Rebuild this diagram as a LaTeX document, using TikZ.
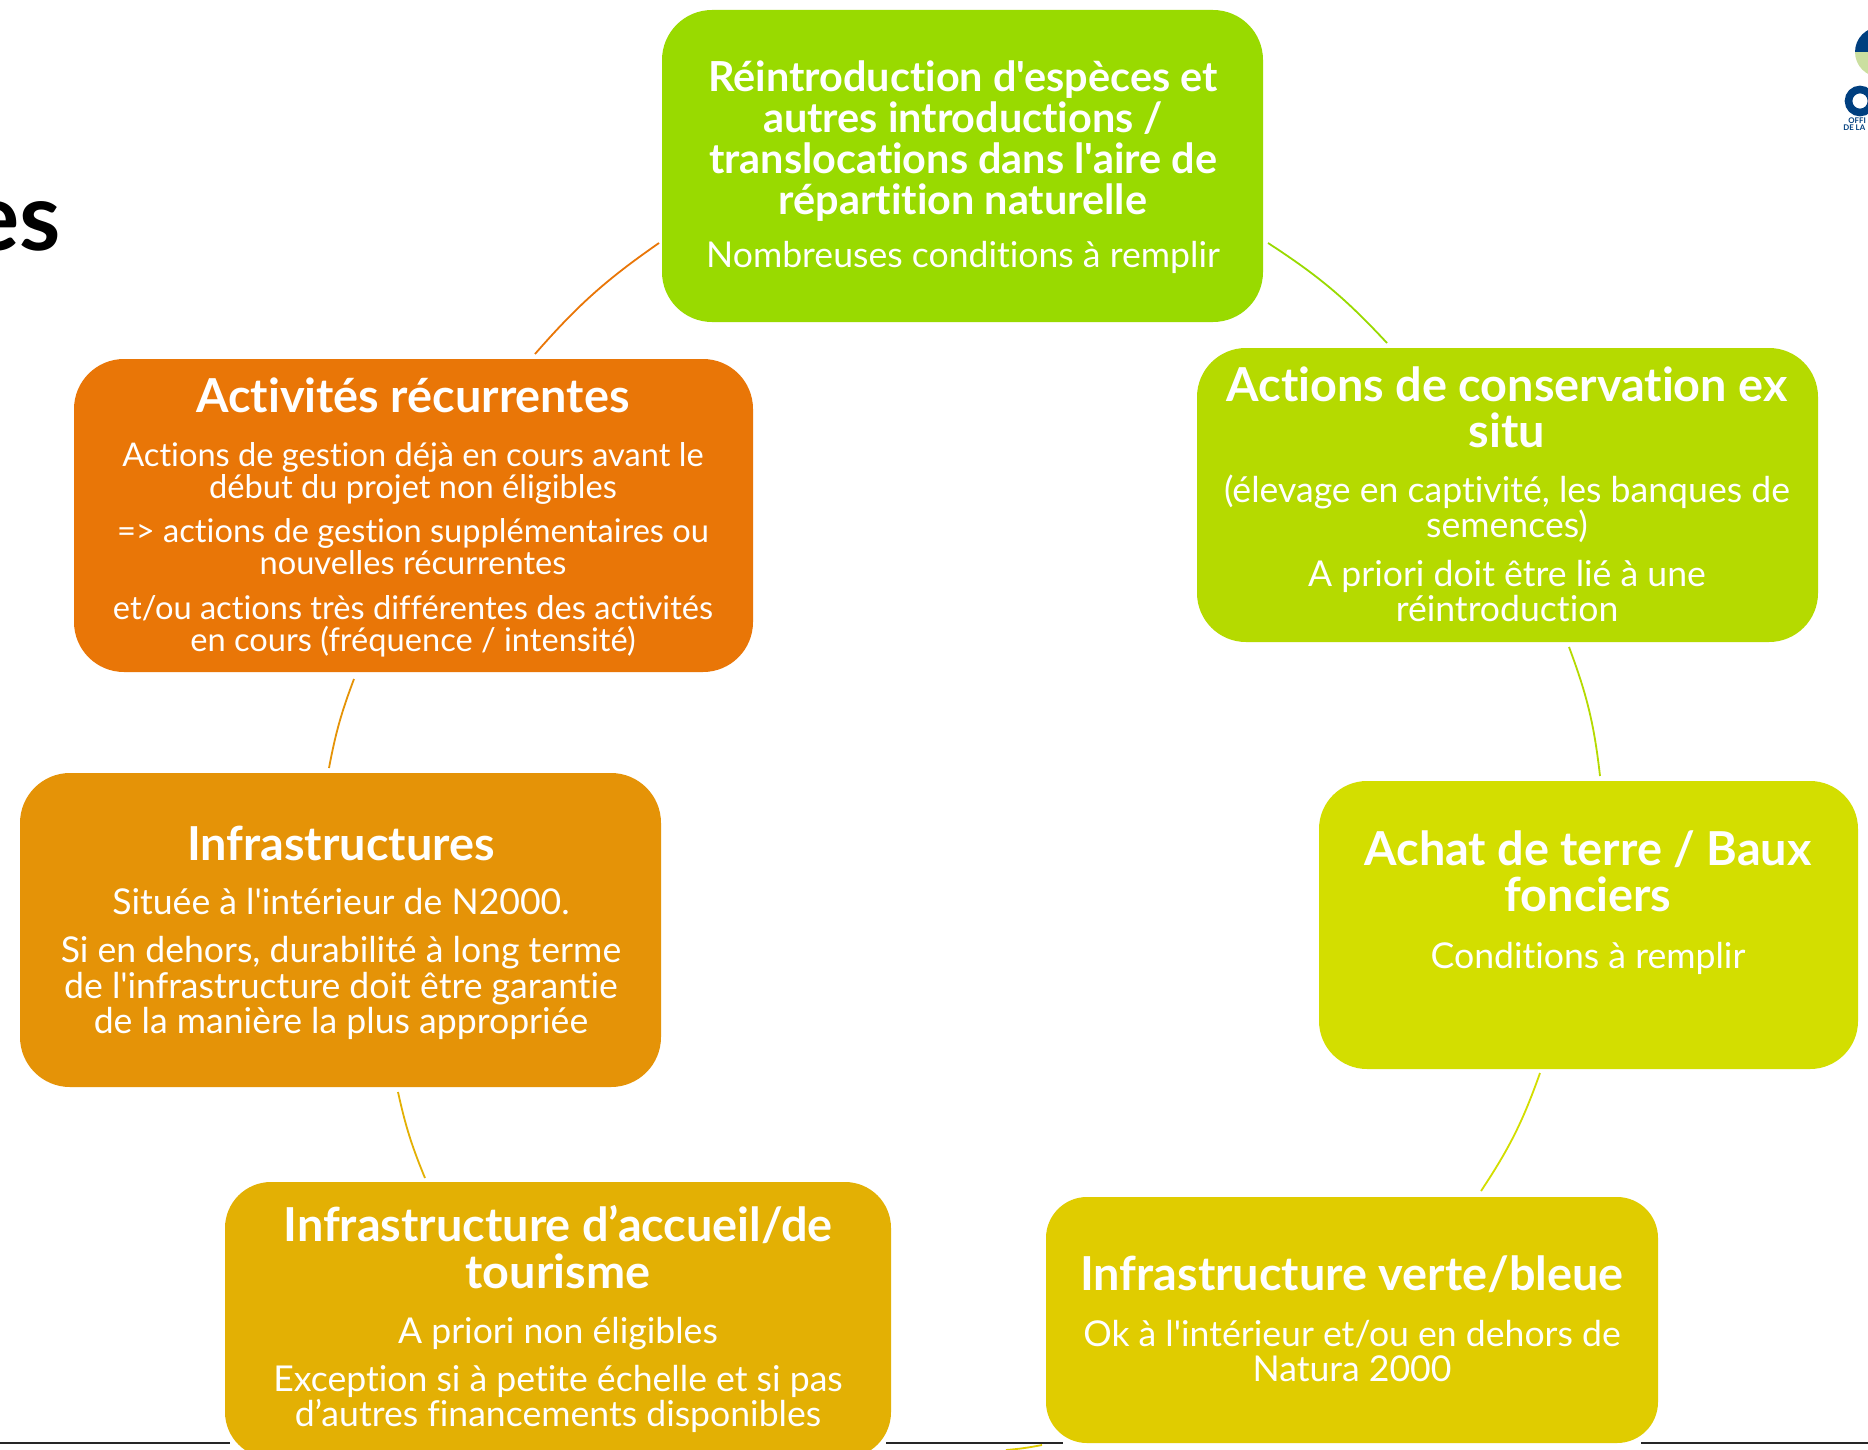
\documentclass[tikz,border=0pt]{standalone}
\usepackage{fontspec}
\setmainfont{Lato}[Ligatures={NoCommon,TeXOff}]
\definecolor{cA}{HTML}{99DA00}
\definecolor{cB}{HTML}{B5DA00}
\definecolor{cC}{HTML}{D3DE00}
\definecolor{cD}{HTML}{E0CC00}
\definecolor{cE}{HTML}{E3B004}
\definecolor{cF}{HTML}{E59307}
\definecolor{cG}{HTML}{E97607}
\definecolor{navy}{HTML}{003F7F}
\definecolor{pale}{HTML}{CBDFA0}
\tikzset{
  hdA/.style={text=white,align=center,inner sep=0,font=\fontsize{20.7}{20.5}\selectfont\bfseries},
  hdB/.style={text=white,align=center,inner sep=0,font=\fontsize{23.4}{23.2}\selectfont\bfseries},
  bodyA/.style={text=white,align=center,inner sep=0,font=\fontsize{17.8}{17.6}\selectfont},
  bodyB/.style={text=white,align=center,inner sep=0,font=\fontsize{16.3}{16}\selectfont},
  logotxt/.style={anchor=base west,inner sep=0,text=navy,font=\fontsize{3.9}{4}\selectfont\bfseries},
  arcc/.style={line width=0.9pt},
}
\begin{document}
\begin{tikzpicture}[x=0.5pt,y=-0.5pt]
\useasboundingbox (0,0) rectangle (1868,1450);
\clip (0,0) rectangle (1868,1450);
\fill[white] (0,0) rectangle (1868,1450);
% slide rule and title remnant
\coordinate (ruleA) at (0,1442.5); \coordinate (ruleB) at (230,1442.5);
\coordinate (ruleC) at (886,1442.5); \coordinate (ruleD) at (1063,1442.5);
\coordinate (ruleE) at (1641,1442.5); \coordinate (ruleF) at (1868,1442.5);
\draw[black!85,line width=1pt] (ruleA) -- (ruleB) (ruleC) -- (ruleD) (ruleE) -- (ruleF);
\node[anchor=base east,inner sep=0,font=\fontsize{47}{47}\selectfont\bfseries] (title) at (61,250) {es};
% logo: arcs run in the flipped y direction of this picture
\fill[pale] (1855,52) arc (180:90:25) -- (1880,52) -- cycle;
\fill[navy] (1855,52) arc (180:270:25) -- (1880,52) -- cycle;
\draw[navy,line width=3.8pt] (1860,101) circle (11.5);
\node[logotxt] (logoA) at (1848,124) {OFFI};
\node[logotxt] (logoB) at (1843,131) {DE LA};
% boxes
\fill[cA,rounded corners=25pt] (662,10) rectangle (1263,322);
\node[hdA] (t1) at (963,141) {Réintroduction d'espèces et\\autres introductions /\\translocations dans l'aire de\\répartition naturelle};
\node[bodyA] (t1b) at (963,257) {Nombreuses conditions à remplir};
\fill[cB,rounded corners=24.5pt] (1197,348) rectangle (1818,642);
\node[hdB] (t2) at (1507,407) {Actions de conservation ex\\situ};
\node[bodyA] (t2b) at (1507,509) {(élevage en captivité, les banques de\\semences)};
\node[bodyA] (t2c) at (1507,591) {A priori doit être lié à une\\réintroduction};
\fill[cC,rounded corners=24pt] (1319,781) rectangle (1858,1069);
\node[hdB] (t3) at (1588,871) {Achat de terre / Baux\\fonciers};
\node[bodyA] (t3b) at (1588,958) {Conditions à remplir};
\fill[cD,rounded corners=20.5pt] (1046,1197) rectangle (1658,1443);
\node[hdB] (t4) at (1352,1274) {Infrastructure verte/bleue};
\node[bodyA] (t4b) at (1352,1351) {Ok à l'intérieur et/ou en dehors de\\Natura 2000};
\fill[cE,rounded corners=23pt] (225,1182) rectangle (891,1458);
\node[hdB] (t5) at (558,1247) {Infrastructure d’accueil/de\\tourisme};
\node[bodyA] (t5b) at (558,1334) {A priori non éligibles};
\node[bodyA] (t5c) at (558,1399) {Exception si à petite échelle et si pas\\d’autres financements disponibles};
\fill[cF,rounded corners=25pt] (20,773) rectangle (661,1087);
\node[hdB] (t6) at (341,843) {Infrastructures};
\node[bodyA] (t6b) at (341,902) {Située à l'intérieur de N2000.};
\node[bodyA] (t6c) at (341,988) {Si en dehors, durabilité à long terme\\de l'infrastructure doit être garantie\\de la manière la plus appropriée};
\fill[cG,rounded corners=25pt] (74,359) rectangle (753,672);
\node[hdB] (t7) at (413,395) {Activités récurrentes};
\node[bodyB] (t7b) at (413,473) {Actions de gestion déjà en cours avant le\\début du projet non éligibles};
\node[bodyB] (t7c) at (413,547) {=> actions de gestion supplémentaires ou\\nouvelles récurrentes};
\node[bodyB] (t7d) at (413,626) {et/ou actions très différentes des activités\\en cours (fréquence / intensité)};
% connectors
\coordinate (c1a) at (1268,243); \coordinate (c1b) at (1387,343);
\coordinate (c2a) at (1569,647); \coordinate (c2b) at (1600,776);
\coordinate (c3a) at (1540,1073); \coordinate (c3b) at (1481,1191);
\coordinate (c4a) at (1042,1445); \coordinate (c4b) at (1006,1450);
\coordinate (c5a) at (425,1178); \coordinate (c5b) at (398,1092);
\coordinate (c6a) at (329,768); \coordinate (c6b) at (354,679);
\coordinate (c7a) at (535,354); \coordinate (c7b) at (659,243);
\draw[arcc,cA] (c1a) to[bend left=7] (c1b);
\draw[arcc,cB] (c2a) to[bend left=7] (c2b);
\draw[arcc,cC] (c3a) to[bend left=7] (c3b);
\draw[arcc,cD] (c4a) to[bend left=3] (c4b);
\draw[arcc,cE] (c5a) to[bend left=5] (c5b);
\draw[arcc,cF] (c6a) to[bend left=5] (c6b);
\draw[arcc,cG] (c7a) to[bend left=7] (c7b);
\end{tikzpicture}
\end{document}
